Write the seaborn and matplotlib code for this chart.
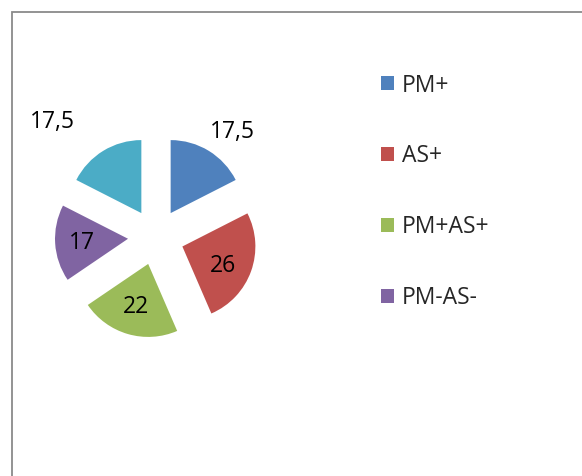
import numpy as np
import matplotlib
matplotlib.use("Agg")
import matplotlib.pyplot as plt
import seaborn as sns
from matplotlib.patches import Rectangle

# data (comma as decimal separator in labels)
values = [17.5, 26, 22, 17, 17.5]
# the legend in the original only shows four entries (last one is cut off)
legend_labels = ["PM+", "AS+", "PM+AS+", "PM-AS-"]
colors = ["#4F81BD", "#C0504D", "#9BBB59", "#8064A2", "#4BACC6"]

# label placement per slice: radial distance and angle shift (degrees)
label_dist = [1.78, 1.0, 1.0, 1.02, 2.12]
label_shift = [-4.3, -4.0, 0.0, 1.0, 10.7]

sns.set_style("white")
plt.rcParams["font.family"] = ["Open Sans", "DejaVu Sans"]
palette = sns.color_palette(colors)

W, H = 582, 476
fig = plt.figure(figsize=(W / 100, H / 100), dpi=100)
ax = fig.add_axes([0, 0, 1, 1])

# pie geometry in pixels
cx, cy, r = 156, 237, 73

wedges, _ = ax.pie(values, colors=palette, startangle=90, counterclock=False,
                   explode=[0.384] * len(values), radius=1.0,
                   wedgeprops=dict(linewidth=0))

ax.set_xlim(-cx / r, (W - cx) / r)
ax.set_ylim(-(H - cy) / r, cy / r)
ax.set_aspect("auto")
ax.axis("off")

fs = 16.5
for w, v, d, s in zip(wedges, values, label_dist, label_shift):
    mid = np.deg2rad((w.theta1 + w.theta2) / 2 + s)
    txt = (f"{v:g}").replace(".", ",")
    ax.text(d * np.cos(mid), d * np.sin(mid), txt, ha="center", va="center",
            fontsize=fs, color="black")

ax.legend(wedges[:4], legend_labels, loc="upper left",
          bbox_to_anchor=(381 / W, 1 - 73.5 / H), bbox_transform=fig.transFigure,
          frameon=False, fontsize=fs, handlelength=0.57, handleheight=0.57,
          handletextpad=0.35, labelspacing=2.05, borderpad=0, borderaxespad=0)

# chart area frame (only left and top edges are visible)
fig.patches.append(Rectangle((11.5 / W, -0.1), 1.2, (H - 11.5) / H + 0.1,
                             transform=fig.transFigure, fill=False,
                             edgecolor="#8a8a8a", linewidth=1.3))

fig.savefig("out.png", dpi=100, facecolor="white")
